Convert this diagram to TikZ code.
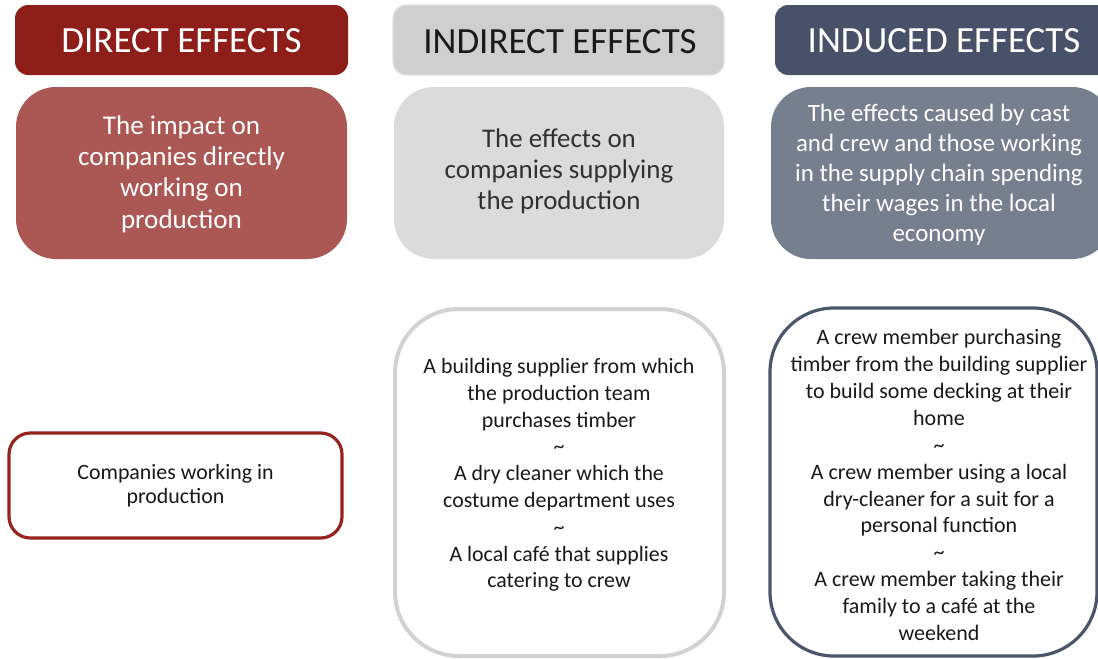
\documentclass[tikz,border=0pt]{standalone}
\usepackage{fontspec}
\setmainfont{Carlito}
\definecolor{dred}{RGB}{142,30,26}
\definecolor{mred}{RGB}{171,87,83}
\definecolor{bred}{RGB}{150,36,30}
\definecolor{lgray}{RGB}{208,207,208}
\definecolor{lgrayb}{RGB}{224,223,224}
\definecolor{mgray}{RGB}{220,219,220}
\definecolor{bgray}{RGB}{210,210,210}
\definecolor{dslate}{RGB}{71,82,104}
\definecolor{mslate}{RGB}{118,127,142}
\definecolor{bslate}{RGB}{75,86,107}
\definecolor{txt}{RGB}{25,25,25}
\tikzset{
  hdr/.style={rounded corners=10},
  descbox/.style={rounded corners=30},
  listbox/.style={rounded corners=48},
  lbl/.style={align=center, inner sep=0pt},
}
\begin{document}
\begin{tikzpicture}[x=0.75pt,y=-0.75pt]
\useasboundingbox (0,0) rectangle (1098,658);
% Direct column
\path[hdr, fill=dred] (15,5) rectangle (348,75);
\node[lbl, text=white, font=\fontsize{27.7}{32}\selectfont] (dh) at (181.5,41) {DIRECT EFFECTS};
\path[descbox, fill=mred] (16,87) rectangle (347,259);
\node[lbl, text=white, font=\fontsize{20.3}{23.6}\selectfont] (dd) at (181.5,174) {The impact on\\companies directly\\working on\\production};
\draw[rounded corners=16, draw=bred, line width=2.4pt, fill=white] (9,433) rectangle (342,538);
\node[lbl, text=txt, font=\fontsize{16.4}{18}\selectfont] (dl) at (175.5,486) {Companies working in\\production};
% Indirect column
\path[hdr, fill=lgray, draw=lgrayb, line width=0.8pt] (393,5) rectangle (724,75);
\node[lbl, text=txt, font=\fontsize{27.7}{32}\selectfont] (ih) at (560,42) {INDIRECT EFFECTS};
\path[descbox, fill=mgray] (394,87) rectangle (724,259);
\node[lbl, text=txt!90, font=\fontsize{20.2}{23.3}\selectfont] (id) at (559,171) {The effects on\\companies supplying\\the production};
\draw[listbox, draw=bgray, line width=3pt, fill=white] (395,309) rectangle (724,656);
\node[lbl, text=txt, font=\fontsize{16.4}{20.1}\selectfont] (il) at (559,475) {A building supplier from which\\the production team\\purchases timber\\\textasciitilde\\A dry cleaner which the\\costume department uses\\\textasciitilde\\A local café that supplies\\catering to crew};
% Induced column
\path[hdr, fill=dslate] (775,5) rectangle (1112,75);
\node[lbl, text=white, font=\fontsize{27.7}{32}\selectfont] (nh) at (944,41) {INDUCED EFFECTS};
\path[descbox, fill=mslate] (771,87) rectangle (1112,259);
\node[lbl, text=white, font=\fontsize{18.7}{22.5}\selectfont] (nd) at (939,175) {The effects caused by cast\\and crew and those working\\in the supply chain spending\\their wages in the local\\economy};
\draw[listbox, draw=bslate, line width=2.4pt, fill=white] (770,308) rectangle (1097,656);
\node[lbl, text=txt, font=\fontsize{16.5}{20.2}\selectfont] (nl) at (939,485) {A crew member purchasing\\timber from the building supplier\\to build some decking at their\\home\\\textasciitilde\\A crew member using a local\\dry-cleaner for a suit for a\\personal function\\\textasciitilde\\A crew member taking their\\family to a café at the\\weekend};
\end{tikzpicture}
\end{document}
